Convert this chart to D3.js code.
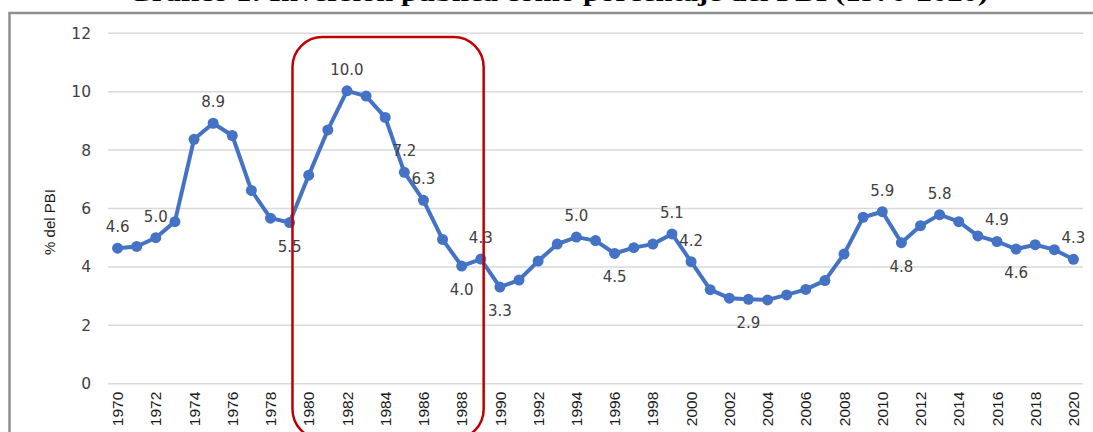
<!DOCTYPE html>
<html>
<head>
<meta charset="utf-8">
<script src="https://cdn.jsdelivr.net/npm/d3@7"></script>
<style>
  body { margin: 0; background: #fff; }
  svg { display: block; }
</style>
</head>
<body>
<div id="chart"></div>
<script>
const years = d3.range(1970, 2021);
const values = [
  4.64, 4.70, 5.00, 5.55, 8.37, 8.92, 8.50, 6.62, 5.67, 5.52,
  7.14, 8.69, 10.03, 9.85, 9.12, 7.24, 6.28, 4.94, 4.03, 4.27,
  3.31, 3.55, 4.20, 4.78, 5.02, 4.90, 4.46, 4.66, 4.78, 5.13,
  4.18, 3.22, 2.93, 2.89, 2.87, 3.04, 3.23, 3.53, 4.44, 5.70,
  5.89, 4.83, 5.41, 5.79, 5.55, 5.06, 4.87, 4.61, 4.76, 4.59,
  4.26
];
// years with a data label, and where the label sits
const labelYears = [1970, 1972, 1975, 1979, 1982, 1985, 1986, 1988, 1989, 1990,
  1994, 1996, 1999, 2000, 2003, 2010, 2011, 2013, 2016, 2017, 2020];
const labelSide = ['up', 'up', 'up', 'down', 'up', 'up', 'up', 'down', 'up', 'down',
  'up', 'down', 'up', 'up', 'down', 'up', 'down', 'up', 'up', 'down', 'up'];
const yTicks = [0, 2, 4, 6, 8, 10, 12];
const xTickYears = years.filter(function (y) { return y % 2 === 0; });
const highlight = [1979.15, 1989.15];
const titleText = 'Gráfico 1: Inversión pública como porcentaje del PBI (1970-2020)';
const yTitle = '% del PBI';

const width = 1093;
const height = 432;
const plot = {left: 108, right: 1083, top: 33.3, bottom: 383.7};

const data = years.map(function (y, i) { return {year: y, value: values[i]}; });

const svg = d3.select('#chart').append('svg')
  .attr('width', width)
  .attr('height', height);

const x = d3.scaleBand()
  .domain(years)
  .range([plot.left, plot.right])
  .padding(0);
const cx = function (yr) { return x(yr) + x.bandwidth() / 2; };
const xLin = d3.scaleLinear()
  .domain([1970, 2020])
  .range([cx(1970), cx(2020)]);

const y = d3.scaleLinear()
  .domain([0, 12])
  .range([plot.bottom, plot.top]);

// title (only its lower edge shows in the picture)
svg.append('text')
  .attr('x', 128)
  .attr('y', 1)
  .attr('textLength', 860)
  .attr('lengthAdjust', 'spacingAndGlyphs')
  .style('font-family', '"Liberation Serif", serif')
  .style('font-weight', 'bold')
  .style('font-size', '24px')
  .attr('fill', '#000')
  .text(titleText);

// frame
svg.append('line')
  .attr('x1', 9.5).attr('x2', 9.5).attr('y1', 12.5).attr('y2', height)
  .attr('stroke', '#8f8f8f').attr('stroke-width', 2.5);
svg.append('line')
  .attr('x1', 8.5).attr('x2', width).attr('y1', 13).attr('y2', 13)
  .attr('stroke', '#8f8f8f').attr('stroke-width', 2.5);

// gridlines
svg.append('g')
  .selectAll('line')
  .data(yTicks)
  .enter()
  .append('line')
  .attr('x1', plot.left)
  .attr('x2', plot.right)
  .attr('y1', function (d) { return y(d); })
  .attr('y2', function (d) { return y(d); })
  .attr('stroke', '#d9d9d9')
  .attr('stroke-width', 1.5);

// y axis labels
const yAxis = svg.append('g')
  .attr('transform', 'translate(' + (plot.left - 17) + ',0)')
  .call(d3.axisLeft(y).tickValues(yTicks).tickSize(0).tickPadding(0));
yAxis.select('.domain').remove();
yAxis.selectAll('text')
  .style('font-family', '"DejaVu Sans", sans-serif')
  .style('font-size', '15.5px')
  .attr('fill', '#404040');

svg.append('text')
  .attr('transform', 'translate(55,' + 222 + ') rotate(-90)')
  .attr('text-anchor', 'middle')
  .style('font-family', '"Liberation Sans", Arial, sans-serif')
  .style('font-size', '15px')
  .attr('fill', '#1a1a1a')
  .text(yTitle);

// x axis labels
const xAxis = svg.append('g')
  .attr('transform', 'translate(0,' + (plot.bottom + 8) + ')')
  .call(d3.axisBottom(x).tickValues(xTickYears).tickSize(0).tickPadding(0));
xAxis.select('.domain').remove();
xAxis.selectAll('text')
  .attr('transform', 'rotate(-90)')
  .attr('text-anchor', 'end')
  .attr('x', 0)
  .attr('y', 0)
  .attr('dy', '0.36em')
  .style('font-family', '"Liberation Sans", Arial, sans-serif')
  .style('font-size', '15.5px')
  .attr('fill', '#1a1a1a');

// line + markers
const line = d3.line()
  .x(function (d) { return cx(d.year); })
  .y(function (d) { return y(d.value); });

svg.append('path')
  .datum(data)
  .attr('d', line)
  .attr('fill', 'none')
  .attr('stroke', '#4472C4')
  .attr('stroke-width', 4)
  .attr('stroke-linejoin', 'round');

svg.append('g')
  .selectAll('circle')
  .data(data)
  .enter()
  .append('circle')
  .attr('cx', function (d) { return cx(d.year); })
  .attr('cy', function (d) { return y(d.value); })
  .attr('r', 5.5)
  .attr('fill', '#4472C4');

// data labels
const labels = labelYears.map(function (yr, i) {
  return {year: yr, value: values[years.indexOf(yr)], side: labelSide[i]};
});
svg.append('g')
  .selectAll('text')
  .data(labels)
  .enter()
  .append('text')
  .attr('x', function (d) { return cx(d.year); })
  .attr('y', function (d) {
    return y(d.value) + (d.side === 'up' ? -16 : 29);
  })
  .attr('text-anchor', 'middle')
  .style('font-family', '"DejaVu Sans", sans-serif')
  .style('font-size', '15px')
  .attr('fill', '#404040')
  .text(function (d) { return d.value.toFixed(1); });

// highlight box (1980s)
const hx0 = xLin(highlight[0]);
const hx1 = xLin(highlight[1]);
svg.append('rect')
  .attr('x', hx0)
  .attr('y', y(11.87))
  .attr('width', hx1 - hx0)
  .attr('height', y(-1.9) - y(11.87))
  .attr('rx', 30)
  .attr('ry', 30)
  .attr('fill', 'none')
  .attr('stroke', '#C00000')
  .attr('stroke-width', 2.5);
</script>
</body>
</html>
